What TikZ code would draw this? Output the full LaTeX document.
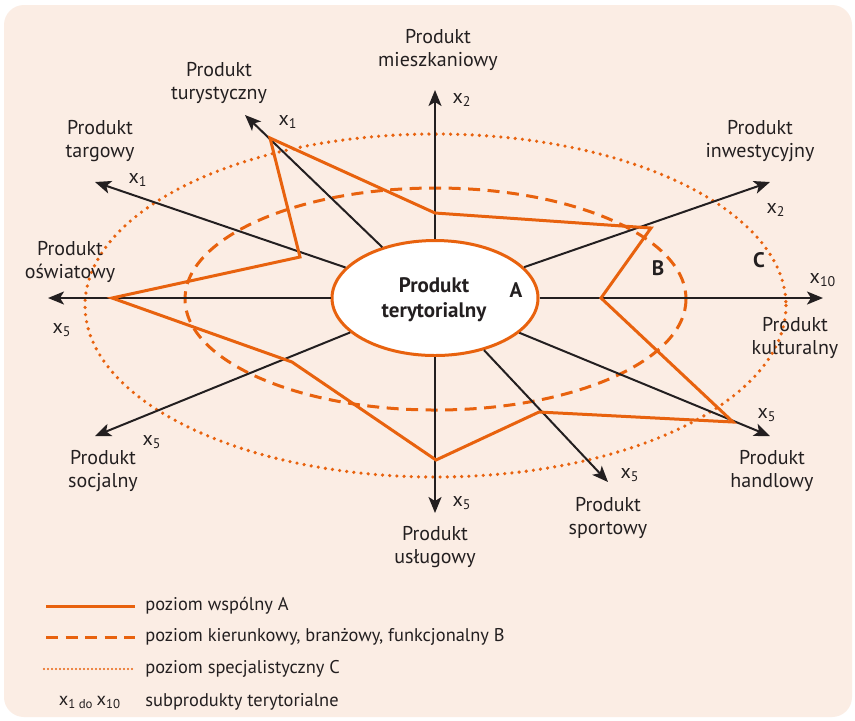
\documentclass[tikz,border=0pt]{standalone}
\usepackage{fontspec}
\setmainfont{PT Sans}
\usetikzlibrary{arrows.meta}
\usetikzlibrary{shapes.geometric}
\definecolor{pomar}{RGB}{232,98,14}
\definecolor{tlo}{RGB}{251,237,228}
\definecolor{tekst}{RGB}{35,31,32}
\newcommand{\sx}[1]{x\textsubscript{#1}}

\begin{document}
\begin{tikzpicture}[x=0.5pt,y=-0.5pt,
                os/.style={tekst, line width=1pt, -{Stealth[length=8pt,width=6.5pt,inset=2pt]}},
                levA/.style={pomar, line width=1.5pt},
                levB/.style={pomar, line width=1.5pt, dash pattern=on 6pt off 3.75pt},
                levC/.style={pomar, line width=1.8pt, line cap=round, dash pattern=on 0pt off 3.6pt},
                opis/.style={tekst, align=center, inner sep=0pt, font=\fontsize{10}{11.5}\selectfont},
                indeks/.style={tekst, inner sep=0pt, font=\fontsize{10}{11.5}\selectfont},
                legenda/.style={tekst, inner sep=0pt, anchor=west, font=\fontsize{9.2}{11}\selectfont},
                litera/.style={tekst, inner sep=0pt, font=\fontsize{10.5}{12}\selectfont\bfseries}]
                \fill[white] (0,0) rectangle (855,720);
                \fill[tlo, rounded corners=10pt] (4,5) rectangle (852,717);
                \useasboundingbox (0,0) rectangle (855,720);

                \draw[levC] (435.5,305.5) ellipse [x radius=350.5, y radius=171.5];
                \draw[levB] (435.5,299) ellipse [x radius=250.5, y radius=111];

                \node[ellipse, draw=pomar, line width=1.5pt, fill=white, minimum width=103pt, minimum height=57.5pt, inner sep=0pt] (pt) at (435,298) {};

                \coordinate (tMiesz) at (435,90);
                \coordinate (tTur) at (245,115);
                \coordinate (tTarg) at (95,182);
                \coordinate (tOsw) at (48,298);
                \coordinate (tSocj) at (95,436);
                \coordinate (tUsl) at (435,513);
                \coordinate (tSport) at (608,482);
                \coordinate (tHandl) at (770,436);
                \coordinate (tKult) at (823,298);
                \coordinate (tInw) at (770,182);

                \draw[os] (pt) -- (tMiesz);
                \draw[os] (pt) -- (tTur);
                \draw[os] (pt) -- (tTarg);
                \draw[os] (pt) -- (tOsw);
                \draw[os] (pt) -- (tSocj);
                \draw[os] (pt) -- (tUsl);
                \draw[os] (pt) -- (tSport);
                \draw[os] (pt) -- (tHandl);
                \draw[os] (pt) -- (tKult);
                \draw[os] (pt) -- (tInw);

                \coordinate (aTur) at (270,138);
                \coordinate (aMiesz) at (435,213);
                \coordinate (aInw) at (651,228);
                \coordinate (aKult) at (601,298);
                \coordinate (aHandl) at (733,422);
                \coordinate (aSport) at (539,412);
                \coordinate (aUsl) at (436,460);
                \coordinate (aSocj) at (292,362);
                \coordinate (aOsw) at (112,298);
                \coordinate (aTarg) at (300,257);
                \draw[levA] (aTur) -- (aMiesz) -- (aInw) -- (aKult) -- (aHandl) -- (aSport) -- (aUsl) -- (aSocj) -- (aOsw) -- (aTarg) -- cycle;

                \node[opis, font=\fontsize{10.5}{12.5}\selectfont\bfseries] (ptTxt) at (434,300) {Produkt\\terytorialny};
                \node[litera] (litA) at (516,290) {A};
                \node[litera] (litB) at (658,268) {B};
                \node[litera] (litC) at (759,260) {C};

                \node[opis] (lMiesz) at (438,50) {Produkt\\mieszkaniowy};
                \node[opis] (lTur) at (219,83) {Produkt\\turystyczny};
                \node[opis] (lTarg) at (100,141) {Produkt\\targowy};
                \node[opis] (lOsw) at (70,262) {Produkt\\oświatowy};
                \node[opis] (lSocj) at (103,471) {Produkt\\socjalny};
                \node[opis] (lUsl) at (435,547) {Produkt\\usługowy};
                \node[opis] (lSport) at (608,518) {Produkt\\sportowy};
                \node[opis] (lHandl) at (772,471) {Produkt\\handlowy};
                \node[opis] (lKult) at (795,338) {Produkt\\kulturalny};
                \node[opis] (lInw) at (760,141) {Produkt\\inwestycyjny};

                \node[indeks] (xMiesz) at (462,100) {\sx{2}};
                \node[indeks] (xTur) at (288,122) {\sx{1}};
                \node[indeks] (xTarg) at (138,180) {\sx{1}};
                \node[indeks] (xOsw) at (62,330) {\sx{5}};
                \node[indeks] (xSocj) at (152,442) {\sx{5}};
                \node[indeks] (xUsl) at (462,503) {\sx{5}};
                \node[indeks] (xSport) at (630,475) {\sx{5}};
                \node[indeks] (xHandl) at (767,415) {\sx{5}};
                \node[indeks] (xKult) at (823,280) {\sx{10}};
                \node[indeks] (xInw) at (776,210) {\sx{2}};

                \coordinate (lgA1) at (46,606);
                \coordinate (lgA2) at (135,606);
                \coordinate (lgB1) at (46,637);
                \coordinate (lgB2) at (135,637);
                \coordinate (lgC1) at (44,669);
                \coordinate (lgC2) at (135,669);
                \draw[levA] (lgA1) -- (lgA2);
                \draw[levB] (lgB1) -- (lgB2);
                \draw[levC, line width=1.1pt, dash pattern=on 0pt off 2pt] (lgC1) -- (lgC2);
                \node[legenda] (tA) at (145,606) {poziom wspólny A};
                \node[legenda] (tB) at (145,637) {poziom kierunkowy, branżowy, funkcjonalny B};
                \node[legenda] (tC) at (145,669) {poziom specjalistyczny C};
                \node[legenda, anchor=center] (tX) at (90,702) {\sx{1 do}\,\sx{10}};
                \node[legenda] (tD) at (145,702) {subprodukty terytorialne};
\end{tikzpicture}
\end{document}
